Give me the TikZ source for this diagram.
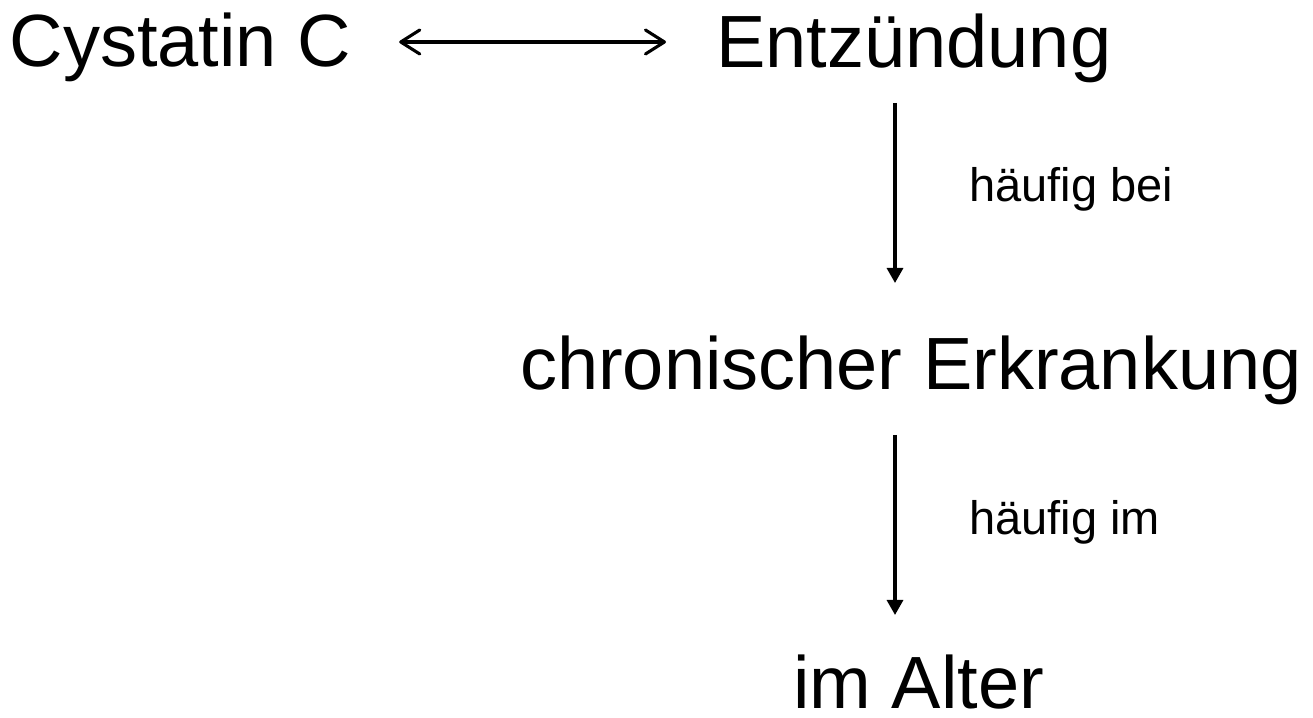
\documentclass[tikz,border=0pt]{standalone}
\usepackage{fontspec}
\setmainfont{Liberation Sans}
\usetikzlibrary{arrows.meta,calc}
\tikzset{barbtip/.tip={Straight Barb[length=19pt,width=24pt,line width=3.1pt,round]}}
\begin{document}
\begin{tikzpicture}[x=1pt,y=1pt,
  big/.style={inner sep=0pt,anchor=base west,font=\fontsize{74}{80}\selectfont},
  small/.style={inner sep=0pt,anchor=base west,font=\fontsize{47}{52}\selectfont},
  link/.style={line width=3.1pt},
  both/.style={link,barbtip-barbtip},
  down/.style={link,-{Triangle[length=15pt,width=16pt]}}]
\useasboundingbox (0,0) rectangle (1313,717);
\fill[white] (0,0) rectangle (1313,717);

% terms
\node[big] (cyst) at (9.5,650) {Cystatin C};
\node[big] (entz) at (716,649) {Entzündung};
\node[big] (chron) at (520,327) {chronischer Erkrankung};
\node[big] (alter) at (793,9) {im Alter};

% edge labels
\node[small] (lab1) at (969,515) {häufig bei};
\node[small] (lab2) at (969,182) {häufig im};

% column of the vertical arrows
\coordinate (col) at (895,0);

\draw[both] ($(cyst.base east)+(48,25)$) -- ($(entz.base west)+(-50,26)$);
\draw[down] ($(col |- entz.base)+(0,-35)$) -- ($(col |- chron.base)+(0,107)$);
\draw[down] ($(col |- chron.base)+(0,-45)$) -- ($(col |- alter.base)+(0,93)$);
\end{tikzpicture}
\end{document}
